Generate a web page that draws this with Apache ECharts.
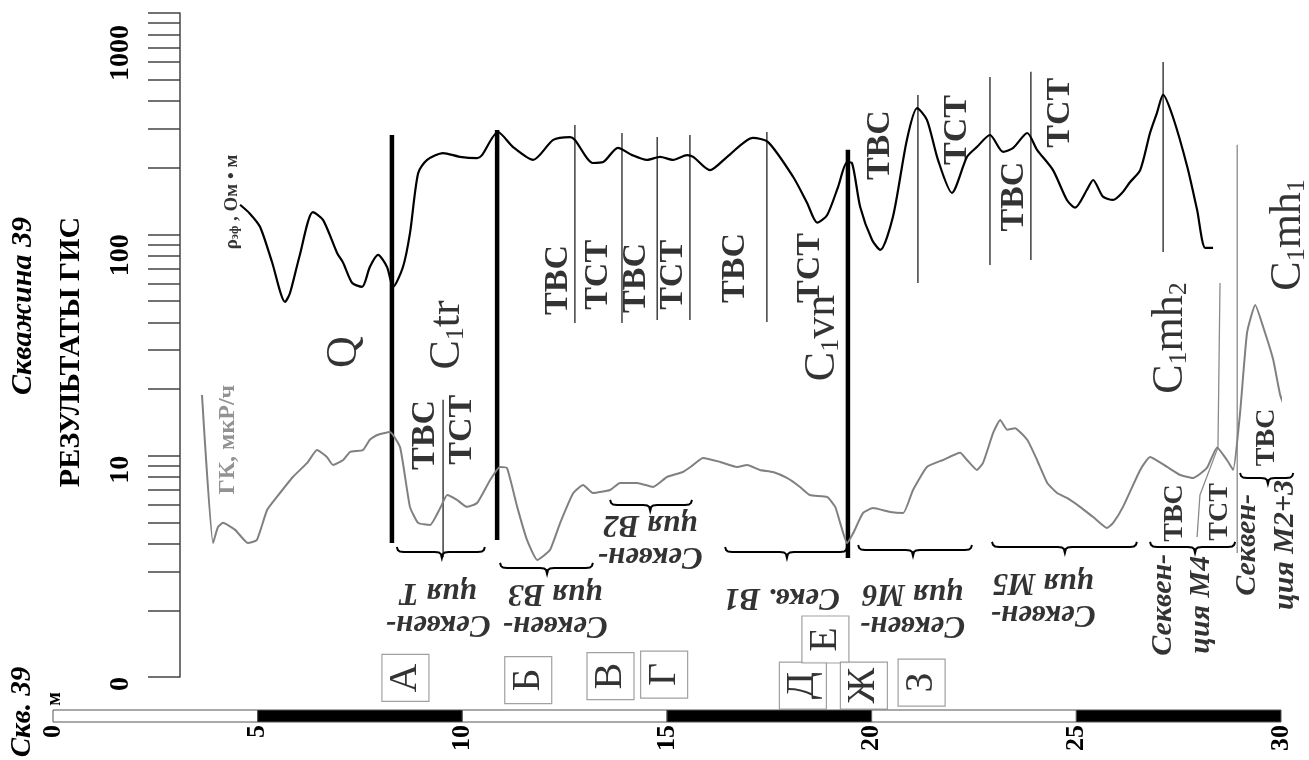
<!DOCTYPE html>
<html>
<head>
<meta charset="utf-8">
<script src="https://cdn.jsdelivr.net/npm/echarts@6/dist/echarts.min.js"></script>
<style>
  html, body { margin: 0; padding: 0; background: #fff; }
  #chart { width: 1309px; height: 760px; }
</style>
</head>
<body>
<div id="chart"></div>
<script>
// ---- Well 39 logging data (depth in m, values on the log scale) ----

// Apparent resistivity ρэф, Ом·м
const rhoLog = [
  [4.57,136],[4.81,124],[5.06,108],[5.35,75],[5.67,49.5],[5.79,54.3],[6.03,80.7],[6.35,126],
  [6.60,116],[6.94,82.4],[7.09,74.3],[7.31,60.3],[7.55,57.9],[7.74,71.2],[7.94,80.7],[8.16,71.2],
  [8.31,57.9],[8.55,71.2],[8.72,101],[8.92,189],[9.14,217],[9.53,233],[9.94,224],[10.36,221],
  [10.48,228],[10.87,290],[11.24,248],[11.73,217],[12.22,267],[12.63,275],[12.75,267],[13.19,210],
  [13.44,212],[13.80,246],[14.15,228],[14.51,217],[14.83,224],[15.15,217],[15.49,228],[15.64,224],
  [16.05,195],[16.47,224],[17.10,273],[17.47,261],[18.08,182],[18.42,139],[18.67,113],[18.91,122],
  [19.18,164],[19.40,212],[19.52,210],[19.72,133],[20.01,94.3],[20.21,85],[20.52,120],[20.86,267],
  [21.11,372],[21.35,329],[21.62,217],[21.96,154],[22.33,224],[22.57,248],[22.89,281],[23.21,236],
  [23.46,246],[23.80,287],[24.04,241],[24.43,195],[24.77,143],[24.97,132],[25.26,159],[25.41,176],
  [25.65,148],[25.90,143],[26.12,154],[26.31,172],[26.56,195],[26.80,287],[26.97,354],[27.12,427],
  [27.36,339],[27.71,202],[27.95,129],[28.15,86.8],[28.34,86.8]
];

// Gamma log ГК, мкР/ч
const gkLog = [
  [3.64,18.8],[3.91,4.03],[4.03,4.76],[4.15,4.97],[4.45,4.62],[4.76,4.03],[4.98,4.16],[5.23,5.68],
  [5.47,6.51],[5.86,8.01],[6.21,9.27],[6.45,10.6],[6.69,9.87],[6.84,9.08],[7.09,9.56],[7.26,10.4],
  [7.57,10.6],[7.74,11.8],[7.92,12.4],[8.23,12.8],[8.48,10.9],[8.72,5.87],[8.92,4.97],[9.21,4.86],
  [9.46,5.80],[9.63,6.64],[9.87,6.31],[10.11,5.87],[10.36,6.11],[10.68,7.77],[10.92,8.89],[11.09,8.80],
  [11.34,5.87],[11.58,4.16],[11.83,3.38],[12.14,3.75],[12.39,4.97],[12.71,6.78],[12.95,7.37],[13.19,6.78],
  [13.61,7.00],[13.85,7.53],[14.27,7.53],[14.66,7.22],[15.00,8.01],[15.39,8.44],[15.64,9.08],[15.88,9.76],
  [16.30,9.37],[16.71,8.89],[16.96,9.08],[17.27,8.62],[17.59,8.44],[17.93,7.93],[18.25,7.22],[18.49,6.64],
  [18.91,6.51],[19.11,5.87],[19.23,4.97],[19.40,4.03],[19.55,4.47],[19.79,5.51],[20.03,5.80],[20.45,5.57],
  [20.77,5.51],[21.01,7.00],[21.35,8.89],[21.74,9.56],[22.16,10.3],[22.33,9.56],[22.57,8.62],[22.72,9.27],
  [22.97,12.7],[23.14,14.5],[23.31,13.1],[23.50,13.3],[23.80,11.8],[24.04,9.56],[24.29,7.53],[24.53,6.78],
  [24.77,6.44],[25.09,5.87],[25.41,5.28],[25.75,4.71],[25.90,4.97],[26.14,5.87],[26.56,8.62],[26.80,9.87],
  [27.22,8.89],[27.54,8.18],[27.85,7.93],[28.19,8.80],[28.44,10.9],[28.68,9.56],[28.83,8.62],[29.00,15.6],
  [29.17,35.9],[29.37,48.0],[29.61,35.9],[29.81,27.1],[29.98,18.8],[30.10,16.6],[30.27,16.1]
];

// Stratigraphic boundaries: [depth, upper value, lower value]
const formationBoundaries = [[8.28,281,4.03],[10.85,296,4.16],[19.42,241,3.45]];
// Systems-tract boundaries
const tractBoundaries = [
  [9.53,17.9,3.48],[12.75,312,39.8],[13.90,287,39.8],[14.76,275,41.0],[15.56,281,41.0],
  [17.44,290,40.2],[21.13,426,60.3],[22.89,514,72.7],[23.89,542,76.6],[27.12,601,83.3]
];
// Sequence boundary M4 / M2+3 and the ТВС/ТСТ split inside M4
const sequenceBoundaries = [[28.93,254,3.63]];
const m4TractSplit = [[28.51,60.3],[28.46,10.9],[28.02,6.64],[27.95,4.29]];

// Stratigraphic indices: [text, depth, level]
const indexLabels = [
  ['Q',7.13,29.4],['C{s|1}tr',9.63,35.1],['C{s|1}vn',18.79,34.0],
  ['C{s|1}mh{s|2}',27.29,34.0],['C{s|1}mh{s|1}',30.17,99.4]
];
// Systems tracts
const tractLabels = [
  ['ТВС',9.09,12.4],['ТСТ',9.99,13.1],['ТВС',12.34,62.2],['ТСТ',13.32,65.6],['ТВС',14.24,63.5],
  ['ТСТ',15.15,65.6],['ТВС',16.66,70.5],['ТСТ',18.49,70.5],['ТВС',20.21,253],['ТСТ',22.09,296],
  ['ТВС',23.48,148],['ТСТ',24.6,354]
];
const tractLabelsSmall = [['ТВС',27.41,5.51],['ТСТ',28.51,5.57],['ТВС',29.66,12.1]];
// Sequences
const sequenceLabels = [
  ['Секвен-\nция Т',9.41,2.05],['Секвен-\nция В3',12.27,2.03],['Секвен-\nция В2',14.59,4.16],
  ['Секв. В1',17.81,2.30],['Секвен-\nция М6',21.00,2.03],['Секвен-\nция М5',24.19,2.28]
];
const sequenceLabelsUp = [['Секвен-\nция М4',27.58,2.12],['Секвен-\nция М2+3',29.64,3.95]];
// Sequence braces: [from, to, middle, level]
const sequenceBraces = [
  [8.40,10.55,9.50,3.67],[10.92,13.19,12.07,3.11],[13.61,15.61,14.59,5.99],[16.42,19.40,17.93,3.67],
  [19.67,22.45,21.01,3.75],[22.94,26.48,24.72,3.87],[26.80,28.88,27.90,3.87],[29.00,30.30,29.68,7.93]
];
// Sample points
const samples = [
  ['А',8.61,0.99],['Б',11.61,0.969],['В',13.62,1.01],['Г',14.93,1.026],
  ['Д',18.32,0.915],['Е',18.87,1.477],['Ж',19.81,0.915],['З',21.22,0.944]
];
// Curve captions
const curveCaptions = [['ρ{s|эф} , Ом • м',4.37,140],['ГК, мкР/ч',4.28,11.8]];

// Depth scale bar: [from, to, dark]
const depthScale = [[0,5,0],[5,10,1],[10,15,0],[15,20,1],[20,25,0],[25,30,1]];
// Log axis ticks and labels
const logTicks = [1,2,3,4,5,6,7,8,9,10,20,30,40,50,60,70,80,90,100,200,300,400,500,600,700,800,900,1000];
const logLabels = [1,10,100,1000];

const SERIF = '"Liberation Serif", "Times New Roman", serif';

function textSeries(items, label, z) {
  return {
    type: 'scatter', xAxisIndex: 0, yAxisIndex: 0, clip: false, silent: true,
    symbolSize: 1, itemStyle: { color: 'rgba(0,0,0,0)' }, z: z || 10,
    data: items.map(t => ({ name: t[0], value: [t[1], t[2]] })),
    label: Object.assign({
      show: true, position: 'inside', formatter: p => p.name,
      fontFamily: SERIF, color: '#000', align: 'center', verticalAlign: 'middle'
    }, label)
  };
}

function boundarySeries(list, color, width) {
  return {
    type: 'custom', xAxisIndex: 0, yAxisIndex: 0, silent: true, z: 3,
    data: list, encode: { x: 0, y: [1, 2] },
    renderItem: (params, api) => {
      const a = api.coord([api.value(0), api.value(1)]);
      const b = api.coord([api.value(0), api.value(2)]);
      return { type: 'line', shape: { x1: a[0], y1: a[1], x2: b[0], y2: b[1] },
               style: { stroke: color, lineWidth: width } };
    }
  };
}

const chart = echarts.init(document.getElementById('chart'), null, { renderer: 'canvas' });

chart.setOption({
  animation: false,
  backgroundColor: '#fff',
  grid: [
    { left: 53, right: 28, top: 13, bottom: 83 },
    { left: 53, right: 28, top: 710, height: 12 }
  ],
  xAxis: [
    { type: 'value', gridIndex: 0, min: 0, max: 30, show: false },
    {
      type: 'value', gridIndex: 1, min: 0, max: 30, interval: 5,
      axisLine: { show: false }, axisTick: { show: false }, splitLine: { show: false },
      axisLabel: { rotate: 90, margin: 3, fontSize: 26, fontWeight: 'bold', fontFamily: SERIF, color: '#000' }
    }
  ],
  yAxis: [
    {
      type: 'log', logBase: 10, gridIndex: 0, min: 1, max: 1000, position: 'left', offset: -127,
      splitLine: { show: false }, minorTick: { show: false },
      axisLine: { show: true, onZero: false, lineStyle: { color: '#444', width: 1.5 } },
      axisTick: { show: true, inside: false, length: 32, customValues: logTicks, lineStyle: { color: '#444', width: 1.5 } },
      axisLabel: {
        show: true, customValues: logLabels, rotate: 90, align: 'right', margin: 45,
        fontSize: 28, fontWeight: 'bold', fontFamily: SERIF, color: '#000',
        formatter: v => (v === 1 ? '0' : v === 1000 ? '{p|1000}' : String(v)),
        rich: { p: { padding: [0, 12, 0, 0], fontSize: 28, fontWeight: 'bold', fontFamily: SERIF, color: '#000' } }
      }
    },
    { type: 'value', gridIndex: 1, min: 0, max: 1, show: false }
  ],
  graphic: [
    { type: 'text', x: 23, y: 306, rotation: Math.PI / 2,
      style: { text: 'Скважина 39', font: 'italic bold 30px ' + SERIF, fill: '#000', align: 'center', verticalAlign: 'middle', textAlign: 'center', textVerticalAlign: 'middle' } },
    { type: 'text', x: 71, y: 352, rotation: Math.PI / 2,
      style: { text: 'РЕЗУЛЬТАТЫ ГИС', font: 'bold 30px ' + SERIF, fill: '#000', align: 'center', verticalAlign: 'middle', textAlign: 'center', textVerticalAlign: 'middle' } },
    { type: 'text', x: 23, y: 712, rotation: Math.PI / 2,
      style: { text: 'Скв. 39', font: 'italic bold 29px ' + SERIF, fill: '#000', align: 'center', verticalAlign: 'middle', textAlign: 'center', textVerticalAlign: 'middle' } },
    { type: 'text', x: 55, y: 699, rotation: Math.PI / 2,
      style: { text: 'м', font: 'bold 20px ' + SERIF, fill: '#000', align: 'center', verticalAlign: 'middle', textAlign: 'center', textVerticalAlign: 'middle' } }
  ],
  series: [
    // depth scale bar
    {
      type: 'custom', xAxisIndex: 1, yAxisIndex: 1, silent: true,
      data: depthScale, encode: { x: [0, 1], y: 2 },
      renderItem: (params, api) => {
        const a = api.coord([api.value(0), 1]);
        const b = api.coord([api.value(1), 0]);
        return { type: 'rect', shape: { x: a[0], y: a[1], width: b[0] - a[0], height: b[1] - a[1] },
                 style: { fill: api.value(2) ? '#000' : '#fff', stroke: '#555', lineWidth: 1 } };
      }
    },
    boundarySeries(tractBoundaries, '#222', 1.3),
    boundarySeries(sequenceBoundaries, '#8a8a8a', 1.3),
    boundarySeries(formationBoundaries, '#000', 4.5),
    {
      type: 'line', xAxisIndex: 0, yAxisIndex: 0, data: m4TractSplit, showSymbol: false, silent: true,
      lineStyle: { color: '#8a8a8a', width: 1.3 }, z: 3
    },
    // sequence braces
    {
      type: 'custom', xAxisIndex: 0, yAxisIndex: 0, silent: true, z: 4,
      data: sequenceBraces, encode: { x: [0, 1, 2], y: 3 },
      renderItem: (params, api) => {
        const L = api.coord([api.value(0), api.value(3)]);
        const R = api.coord([api.value(1), api.value(3)]);
        const M = api.coord([api.value(2), api.value(3)]);
        const y = L[1], c = 7, h = 5;
        const pts = [
          [L[0], y - h], [L[0] + 1, y - 2], [L[0] + 3, y - 0.5], [L[0] + c, y],
          [M[0] - c, y], [M[0] - 3, y + 0.5], [M[0] - 1, y + 2], [M[0], y + h + 1],
          [M[0] + 1, y + 2], [M[0] + 3, y + 0.5], [M[0] + c, y],
          [R[0] - c, y], [R[0] - 3, y - 0.5], [R[0] - 1, y - 2], [R[0], y - h]
        ];
        return { type: 'polyline', shape: { points: pts }, style: { stroke: '#000', lineWidth: 2, fill: null } };
      }
    },
    {
      name: 'ГК', type: 'line', xAxisIndex: 0, yAxisIndex: 0, data: gkLog, showSymbol: false, clip: false,
      smooth: 0.15, lineStyle: { color: '#808080', width: 2 }, z: 5
    },
    {
      name: 'ρэф', type: 'line', xAxisIndex: 0, yAxisIndex: 0, data: rhoLog, showSymbol: false, clip: false,
      smooth: 0.25, lineStyle: { color: '#000', width: 2.2 }, z: 6
    },
    textSeries(indexLabels, {
      rotate: 90, fontSize: 44, fontWeight: 'normal',
      rich: { s: { fontSize: 26, fontFamily: SERIF, color: '#000', verticalAlign: 'bottom' } }
    }),
    textSeries(tractLabels, { rotate: 90, fontSize: 34, fontWeight: 'bold' }),
    textSeries(tractLabelsSmall, { rotate: 90, fontSize: 28, fontWeight: 'bold' }),
    textSeries(sequenceLabels, { rotate: 180, fontSize: 31, fontWeight: 'bold', fontStyle: 'italic', lineHeight: 32 }),
    textSeries(sequenceLabelsUp, { rotate: 90, fontSize: 30, fontWeight: 'bold', fontStyle: 'italic', lineHeight: 38 }),
    textSeries(curveCaptions.slice(0, 1), {
      rotate: 90, fontSize: 19, fontWeight: 'bold',
      rich: { s: { fontSize: 12, fontWeight: 'bold', fontFamily: SERIF, color: '#000', verticalAlign: 'bottom' } }
    }),
    textSeries(curveCaptions.slice(1), { rotate: 90, fontSize: 24, fontWeight: 'bold', color: '#777' }),
    // sample points
    {
      type: 'scatter', xAxisIndex: 0, yAxisIndex: 0, clip: false, silent: true, z: 12,
      symbol: 'rect', symbolSize: 47,
      itemStyle: { color: '#fff', borderColor: '#8a8a8a', borderWidth: 1.2 },
      data: samples.map(s => ({ name: s[0], value: [s[1], s[2]] })),
      label: { show: true, position: 'inside', formatter: p => p.name, rotate: 90,
               fontFamily: SERIF, fontSize: 40, color: '#000' }
    }
  ]
});
</script>
</body>
</html>
